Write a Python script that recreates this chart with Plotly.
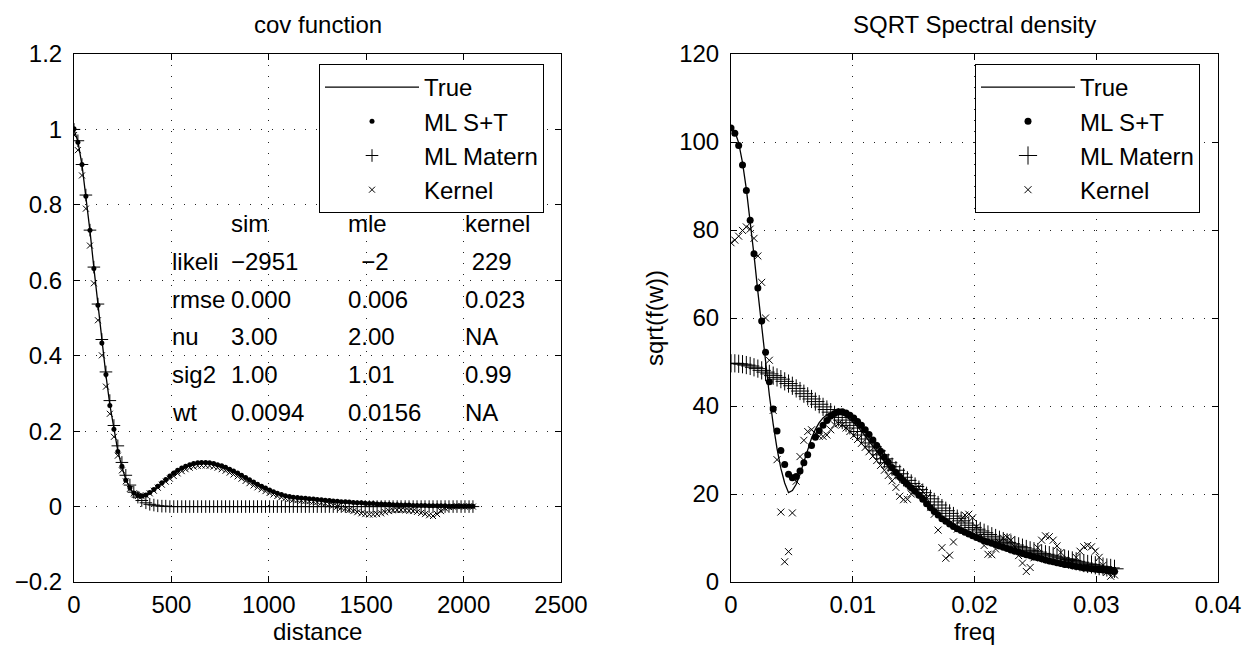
import plotly.graph_objects as go

# ---------------- data: covariance (left panel) ----------------
distance = [0, 20, 41, 61, 82, 102, 123, 143, 164, 184,
            205, 225, 246, 266, 287, 307, 328, 348, 369, 389,
            410, 430, 451, 471, 492, 512, 532, 553, 573, 594,
            614, 635, 655, 676, 696, 717, 737, 758, 778, 799,
            819, 840, 860, 881, 901, 922, 942, 963, 983, 1004,
            1024, 1044, 1065, 1085, 1106, 1126, 1147, 1167, 1188, 1208,
            1229, 1249, 1270, 1290, 1311, 1331, 1352, 1372, 1393, 1413,
            1434, 1454, 1475, 1495, 1516, 1536, 1556, 1577, 1597, 1618,
            1638, 1659, 1679, 1700, 1720, 1741, 1761, 1782, 1802, 1823,
            1843, 1864, 1884, 1905, 1925, 1946, 1966, 1987, 2007, 2028,
            2048]

cov_true = [1.000, 0.968, 0.906, 0.825, 0.731, 0.633, 0.532, 0.436, 0.348, 0.270,
            0.203, 0.148, 0.105, 0.072, 0.049, 0.035, 0.028, 0.027, 0.030, 0.036,
            0.044, 0.053, 0.062, 0.071, 0.080, 0.088, 0.095, 0.101, 0.106, 0.110,
            0.113, 0.115, 0.116, 0.116, 0.115, 0.113, 0.110, 0.107, 0.103, 0.098,
            0.093, 0.088, 0.082, 0.076, 0.070, 0.064, 0.058, 0.053, 0.048, 0.043,
            0.038, 0.034, 0.031, 0.028, 0.026, 0.024, 0.023, 0.022, 0.021, 0.020,
            0.020, 0.019, 0.018, 0.017, 0.016, 0.015, 0.014, 0.013, 0.012, 0.012,
            0.011, 0.010, 0.010, 0.009, 0.008, 0.008, 0.007, 0.006, 0.006, 0.005,
            0.005, 0.004, 0.004, 0.004, 0.003, 0.003, 0.003, 0.003, 0.002, 0.002,
            0.002, 0.002, 0.002, 0.001, 0.001, 0.001, 0.001, 0.001, 0.001, 0.001,
            0.001]

cov_ml_st = [1.002, 0.966, 0.907, 0.823, 0.733, 0.631, 0.534, 0.434, 0.350, 0.268,
             0.205, 0.146, 0.107, 0.070, 0.050, 0.036, 0.030, 0.029, 0.031, 0.037,
             0.045, 0.054, 0.063, 0.072, 0.081, 0.089, 0.096, 0.102, 0.107, 0.111,
             0.114, 0.116, 0.117, 0.117, 0.116, 0.114, 0.111, 0.108, 0.104, 0.099,
             0.094, 0.089, 0.083, 0.077, 0.071, 0.065, 0.059, 0.054, 0.049, 0.044,
             0.039, 0.035, 0.032, 0.029, 0.027, 0.025, 0.024, 0.023, 0.022, 0.021,
             0.020, 0.019, 0.018, 0.017, 0.016, 0.015, 0.014, 0.013, 0.013, 0.012,
             0.011, 0.010, 0.010, 0.009, 0.008, 0.008, 0.007, 0.007, 0.006, 0.006,
             0.005, 0.005, 0.004, 0.004, 0.004, 0.003, 0.003, 0.003, 0.003, 0.002,
             0.002, 0.002, 0.002, 0.002, 0.001, 0.001, 0.001, 0.001, 0.001, 0.001,
             0.001]

cov_ml_matern = [1.000, 0.970, 0.907, 0.826, 0.733, 0.635, 0.537, 0.443, 0.357, 0.281,
                 0.215, 0.161, 0.117, 0.083, 0.057, 0.038, 0.025, 0.016, 0.010, 0.006,
                 0.004, 0.002, 0.001, 0.001, 0.000, 0.000, 0.000, 0.000, 0.000, 0.000,
                 0.000, 0.000, 0.000, 0.000, 0.000, 0.000, 0.000, 0.000, 0.000, 0.000,
                 0.000, 0.000, 0.000, 0.000, 0.000, 0.000, 0.000, 0.000, 0.000, 0.000,
                 0.000, 0.000, 0.000, 0.000, 0.000, 0.000, 0.000, 0.000, 0.000, 0.000,
                 0.000, 0.000, 0.000, 0.000, 0.000, 0.000, 0.000, 0.000, 0.000, 0.000,
                 0.000, 0.000, 0.000, 0.000, 0.000, 0.000, 0.000, 0.000, 0.000, 0.000,
                 0.000, 0.000, 0.000, 0.000, 0.000, 0.000, 0.000, 0.000, 0.000, 0.000,
                 0.000, 0.000, 0.000, 0.000, 0.000, 0.000, 0.000, 0.000, 0.000, 0.000,
                 0.000]

cov_kernel = [0.985, 0.945, 0.878, 0.790, 0.692, 0.592, 0.494, 0.401, 0.318, 0.246,
              0.185, 0.135, 0.096, 0.067, 0.047, 0.035, 0.028, 0.027, 0.030, 0.035,
              0.042, 0.050, 0.058, 0.066, 0.074, 0.081, 0.088, 0.094, 0.099, 0.103,
              0.106, 0.108, 0.109, 0.109, 0.108, 0.106, 0.103, 0.099, 0.095, 0.090,
              0.085, 0.080, 0.074, 0.068, 0.062, 0.056, 0.051, 0.046, 0.041, 0.036,
              0.032, 0.028, 0.025, 0.022, 0.020, 0.018, 0.017, 0.016, 0.015, 0.014,
              0.013, 0.012, 0.010, 0.008, 0.006, 0.003, 0.000, -0.003, -0.006, -0.009,
              -0.012, -0.015, -0.018, -0.020, -0.021, -0.021, -0.020, -0.018, -0.015, -0.012,
              -0.010, -0.009, -0.009, -0.010, -0.011, -0.012, -0.014, -0.017, -0.020, -0.023,
              -0.025, -0.020, -0.012, -0.005, -0.001, 0.000, 0.001, 0.001, 0.000, 0.001,
              0.000]

# ---------------- data: sqrt spectral density (right panel) ----------------
freq = [0.0, 0.000315, 0.00063, 0.000945, 0.00126, 0.001575, 0.00189, 0.002205, 0.00252, 0.002835,
        0.00315, 0.003465, 0.00378, 0.004095, 0.00441, 0.004725, 0.00504, 0.005355, 0.00567, 0.005985,
        0.0063, 0.006615, 0.00693, 0.007245, 0.00756, 0.007875, 0.00819, 0.008505, 0.00882, 0.009135,
        0.00945, 0.009765, 0.01008, 0.010395, 0.01071, 0.011025, 0.01134, 0.011655, 0.01197, 0.012285,
        0.0126, 0.012915, 0.01323, 0.013545, 0.01386, 0.014175, 0.01449, 0.014805, 0.01512, 0.015435,
        0.01575, 0.016065, 0.01638, 0.016695, 0.01701, 0.017325, 0.01764, 0.017955, 0.01827, 0.018585,
        0.0189, 0.019215, 0.01953, 0.019845, 0.02016, 0.020475, 0.02079, 0.021105, 0.02142, 0.021735,
        0.02205, 0.022365, 0.02268, 0.022995, 0.02331, 0.023625, 0.02394, 0.024255, 0.02457, 0.024885,
        0.0252, 0.025515, 0.02583, 0.026145, 0.02646, 0.026775, 0.02709, 0.027405, 0.02772, 0.028035,
        0.02835, 0.028665, 0.02898, 0.029295, 0.02961, 0.029925, 0.03024, 0.030555, 0.03087, 0.031185,
        0.0315]

sd_true = [103.2, 102.4, 99.8, 95.3, 89.3, 82.2, 74.3, 66.0, 57.8, 49.9,
           42.5, 35.9, 30.3, 25.8, 22.5, 20.3, 20.8, 22.2, 24.5, 27.3,
           30.2, 32.7, 34.7, 36.2, 37.3, 38.0, 38.4, 38.5, 38.4, 38.1,
           37.6, 37.0, 36.2, 35.3, 34.3, 33.2, 32.0, 30.8, 29.6, 28.4,
           27.3, 26.3, 25.3, 24.4, 23.6, 22.8, 22.0, 21.2, 20.3, 19.4,
           18.5, 17.5, 16.6, 15.8, 15.0, 14.3, 13.7, 13.1, 12.6, 12.1,
           11.7, 11.3, 10.9, 10.5, 10.1, 9.8, 9.4, 9.1, 8.8, 8.5,
           8.2, 7.9, 7.6, 7.3, 7.0, 6.8, 6.5, 6.2, 6.0, 5.7,
           5.5, 5.3, 5.0, 4.8, 4.6, 4.4, 4.2, 4.0, 3.9, 3.7,
           3.5, 3.4, 3.2, 3.1, 3.0, 2.9, 2.8, 2.7, 2.6, 2.5,
           2.4]

sd_ml_st = [103.2, 102.0, 99.2, 94.8, 89.0, 82.2, 74.6, 66.8, 59.3, 52.2,
            45.5, 39.3, 34.3, 29.9, 26.7, 24.5, 23.7, 24.0, 25.2, 27.1,
            28.9, 31.0, 32.9, 34.4, 35.6, 36.7, 37.7, 38.3, 38.7, 38.7,
            38.4, 37.9, 37.3, 36.5, 35.6, 34.6, 33.5, 32.3, 31.0, 29.7,
            28.4, 27.2, 26.0, 24.9, 23.9, 23.0, 22.2, 21.4, 20.6, 19.7,
            18.8, 17.8, 16.9, 16.0, 15.2, 14.4, 13.8, 13.2, 12.6, 12.1,
            11.7, 11.3, 10.9, 10.5, 10.1, 9.8, 9.4, 9.1, 8.8, 8.5,
            8.2, 7.9, 7.6, 7.3, 7.0, 6.8, 6.5, 6.2, 6.0, 5.7,
            5.5, 5.3, 5.0, 4.8, 4.6, 4.4, 4.2, 4.0, 3.9, 3.7,
            3.5, 3.4, 3.2, 3.1, 3.0, 2.9, 2.8, 2.7, 2.6, 2.5,
            2.4]

sd_ml_matern = [49.7, 49.7, 49.6, 49.5, 49.3, 49.1, 48.8, 48.5, 48.1, 47.7,
                47.3, 46.9, 46.5, 46.1, 45.6, 45.1, 44.6, 44.0, 43.4, 42.8,
                42.2, 41.6, 41.0, 40.4, 39.8, 39.2, 38.6, 38.0, 37.4, 36.8,
                36.2, 35.6, 35.0, 34.2, 33.4, 32.5, 31.6, 30.7, 29.8, 28.9,
                28.0, 27.1, 26.2, 25.4, 24.6, 23.8, 23.1, 22.4, 21.7, 21.0,
                20.3, 19.6, 18.9, 18.2, 17.5, 16.8, 16.2, 15.6, 15.0, 14.4,
                13.9, 13.4, 12.9, 12.4, 12.0, 11.6, 11.2, 10.8, 10.4, 10.0,
                9.6, 9.3, 9.0, 8.7, 8.4, 8.1, 7.8, 7.5, 7.2, 7.0,
                6.8, 6.5, 6.3, 6.1, 5.9, 5.7, 5.5, 5.3, 5.1, 4.9,
                4.7, 4.5, 4.3, 4.1, 4.0, 3.8, 3.6, 3.5, 3.3, 3.2,
                3.0]

sd_kernel = [77.1, 77.7, 78.6, 79.9, 80.7, 80.2, 78.1, 74.1, 68.1, 60.0,
             50.4, 39.0, 27.8, 15.9, 4.6, 6.9, 15.7, 22.9, 28.5, 32.2,
             34.2, 34.6, 33.8, 33.1, 33.1, 33.4, 34.6, 35.7, 36.0, 35.7,
             35.0, 34.2, 33.3, 32.4, 31.5, 30.6, 29.6, 28.6, 27.6, 26.5,
             25.4, 24.2, 23.0, 21.5, 19.5, 18.7, 18.8, 20.0, 21.2, 21.5,
             20.5, 19.0, 17.0, 15.4, 11.8, 7.8, 5.4, 6.1, 9.1, 12.0,
             14.2, 15.2, 15.4, 14.6, 12.5, 10.3, 8.3, 6.3, 6.2, 7.5,
             9.0, 10.0, 10.2, 9.5, 8.0, 6.0, 4.3, 2.4, 3.3, 5.5,
             7.8, 9.5, 10.5, 10.3, 9.5, 8.2, 6.7, 5.0, 4.0, 4.5,
             5.6, 7.0, 8.0, 8.3, 8.0, 7.0, 5.6, 3.8, 2.2, 1.3,
             1.6]

# ---------------- table text shown in the left panel ----------------
table_labels = ["", "likeli", "rmse", "nu", "sig2", "wt"]
table_sim = ["sim", "\u22122951", "0.000", "3.00", "1.00", "0.0094"]
table_mle = ["mle", "\u00a0\u00a0\u22122", "0.006", "2.00", "1.01", "0.0156"]
table_kernel = ["kernel", "\u00a0229", "0.023", "NA", "0.99", "NA"]
table_rows_y = [0.75, 0.65, 0.55, 0.45, 0.35, 0.25]
table_cols_x = [500, 800, 1400, 2000]

series_names = ["True", "ML S+T", "ML Matern", "Kernel"]

FONT = "Liberation Sans, Arial, Helvetica, sans-serif"
FS = 24
W, H = 1252, 649

fig = go.Figure()


def add_panel(x, ys, xa, ya, legend, dot_size, plus_size, x_size):
    y_true, y_st, y_mat, y_ker = ys
    fig.add_trace(go.Scatter(x=x, y=y_true, name=series_names[0], mode="lines",
                             line=dict(color="black", width=1.3),
                             xaxis=xa, yaxis=ya, legend=legend))
    fig.add_trace(go.Scatter(x=x, y=y_st, name=series_names[1], mode="markers",
                             marker=dict(symbol="circle", size=dot_size, color="black"),
                             xaxis=xa, yaxis=ya, legend=legend))
    fig.add_trace(go.Scatter(x=x, y=y_mat, name=series_names[2], mode="markers",
                             marker=dict(symbol="cross-thin-open", size=plus_size,
                                         color="black", line=dict(color="black", width=1)),
                             xaxis=xa, yaxis=ya, legend=legend))
    fig.add_trace(go.Scatter(x=x, y=y_ker, name=series_names[3], mode="markers",
                             marker=dict(symbol="x-thin-open", size=x_size,
                                         color="black", line=dict(color="black", width=1)),
                             xaxis=xa, yaxis=ya, legend=legend))


add_panel(distance, [cov_true, cov_ml_st, cov_ml_matern, cov_kernel],
          "x", "y", "legend", 5, 9, 6)
add_panel(freq, [sd_true, sd_ml_st, sd_ml_matern, sd_kernel],
          "x2", "y2", "legend2", 7, 13, 7)

TOP, BOTTOM = 46, 574
ydom = [1 - BOTTOM / H, 1 - TOP / H]
xdom1 = [66 / W, 553 / W]
xdom2 = [723 / W, 1210 / W]

axis_common = dict(showline=True, mirror="ticks", linecolor="black", linewidth=1,
                   ticks="inside", ticklen=6, tickcolor="black", tickwidth=1,
                   showgrid=True, gridcolor="#222", gridwidth=1, griddash="1px,10px",
                   zeroline=False, tickfont=dict(family=FONT, size=FS, color="black"),
                   automargin=False)

fig.update_layout(
    width=W, height=H, autosize=False,
    margin=dict(l=0, r=0, t=0, b=0),
    paper_bgcolor="white", plot_bgcolor="white",
    font=dict(family=FONT, size=FS, color="black"),
    xaxis=dict(domain=xdom1, anchor="y", range=[0, 2500], tick0=0, dtick=500,
               ticklabelstandoff=1, **axis_common),
    yaxis=dict(domain=ydom, anchor="x", range=[-0.2, 1.2], tick0=-0.2, dtick=0.2,
               ticklabelstandoff=6, **axis_common),
    xaxis2=dict(domain=xdom2, anchor="y2", range=[0, 0.04], tick0=0, dtick=0.01,
                ticklabelstandoff=1, **axis_common),
    yaxis2=dict(domain=ydom, anchor="x2", range=[0, 120], tick0=0, dtick=20,
                ticklabelstandoff=6, **axis_common),
    legend=dict(x=311 / W, y=1 - (TOP + 10) / H, xanchor="left", yanchor="top",
                bgcolor="white", bordercolor="black", borderwidth=1,
                font=dict(family=FONT, size=FS), itemwidth=94, tracegroupgap=0),
    legend2=dict(x=967 / W, y=1 - (TOP + 10) / H, xanchor="left", yanchor="top",
                 bgcolor="white", bordercolor="black", borderwidth=1,
                 font=dict(family=FONT, size=FS), itemwidth=94, tracegroupgap=0),
    showlegend=True,
)

annotations = [
    dict(text="cov function", xref="paper", yref="paper",
         x=(xdom1[0] + xdom1[1]) / 2, y=1 - 17 / H, xanchor="center", yanchor="middle",
         showarrow=False, font=dict(family=FONT, size=FS)),
    dict(text="SQRT Spectral density", xref="paper", yref="paper",
         x=(xdom2[0] + xdom2[1]) / 2, y=1 - 17 / H, xanchor="center", yanchor="middle",
         showarrow=False, font=dict(family=FONT, size=FS)),
    # axis titles
    dict(text="distance", xref="paper", yref="paper",
         x=(xdom1[0] + xdom1[1]) / 2, y=1 - 623 / H, xanchor="center", yanchor="middle",
         showarrow=False, font=dict(family=FONT, size=FS), borderpad=0),
    dict(text="freq", xref="paper", yref="paper",
         x=(xdom2[0] + xdom2[1]) / 2, y=1 - 623 / H, xanchor="center", yanchor="middle",
         showarrow=False, font=dict(family=FONT, size=FS), borderpad=0),
    dict(text="sqrt(f(w))", xref="paper", yref="paper", textangle=-90,
         x=647 / W, y=(ydom[0] + ydom[1]) / 2, xanchor="center", yanchor="middle",
         showarrow=False, font=dict(family=FONT, size=FS)),
]
for col_x, col in zip(table_cols_x, [table_labels, table_sim, table_mle, table_kernel]):
    for row_y, txt in zip(table_rows_y, col):
        if txt:
            annotations.append(dict(text=txt, xref="x", yref="y", x=col_x, y=row_y,
                                    xanchor="left", yanchor="middle", showarrow=False,
                                    font=dict(family=FONT, size=FS), borderpad=0))
fig.update_layout(annotations=annotations)

fig.write_html("out.html")
